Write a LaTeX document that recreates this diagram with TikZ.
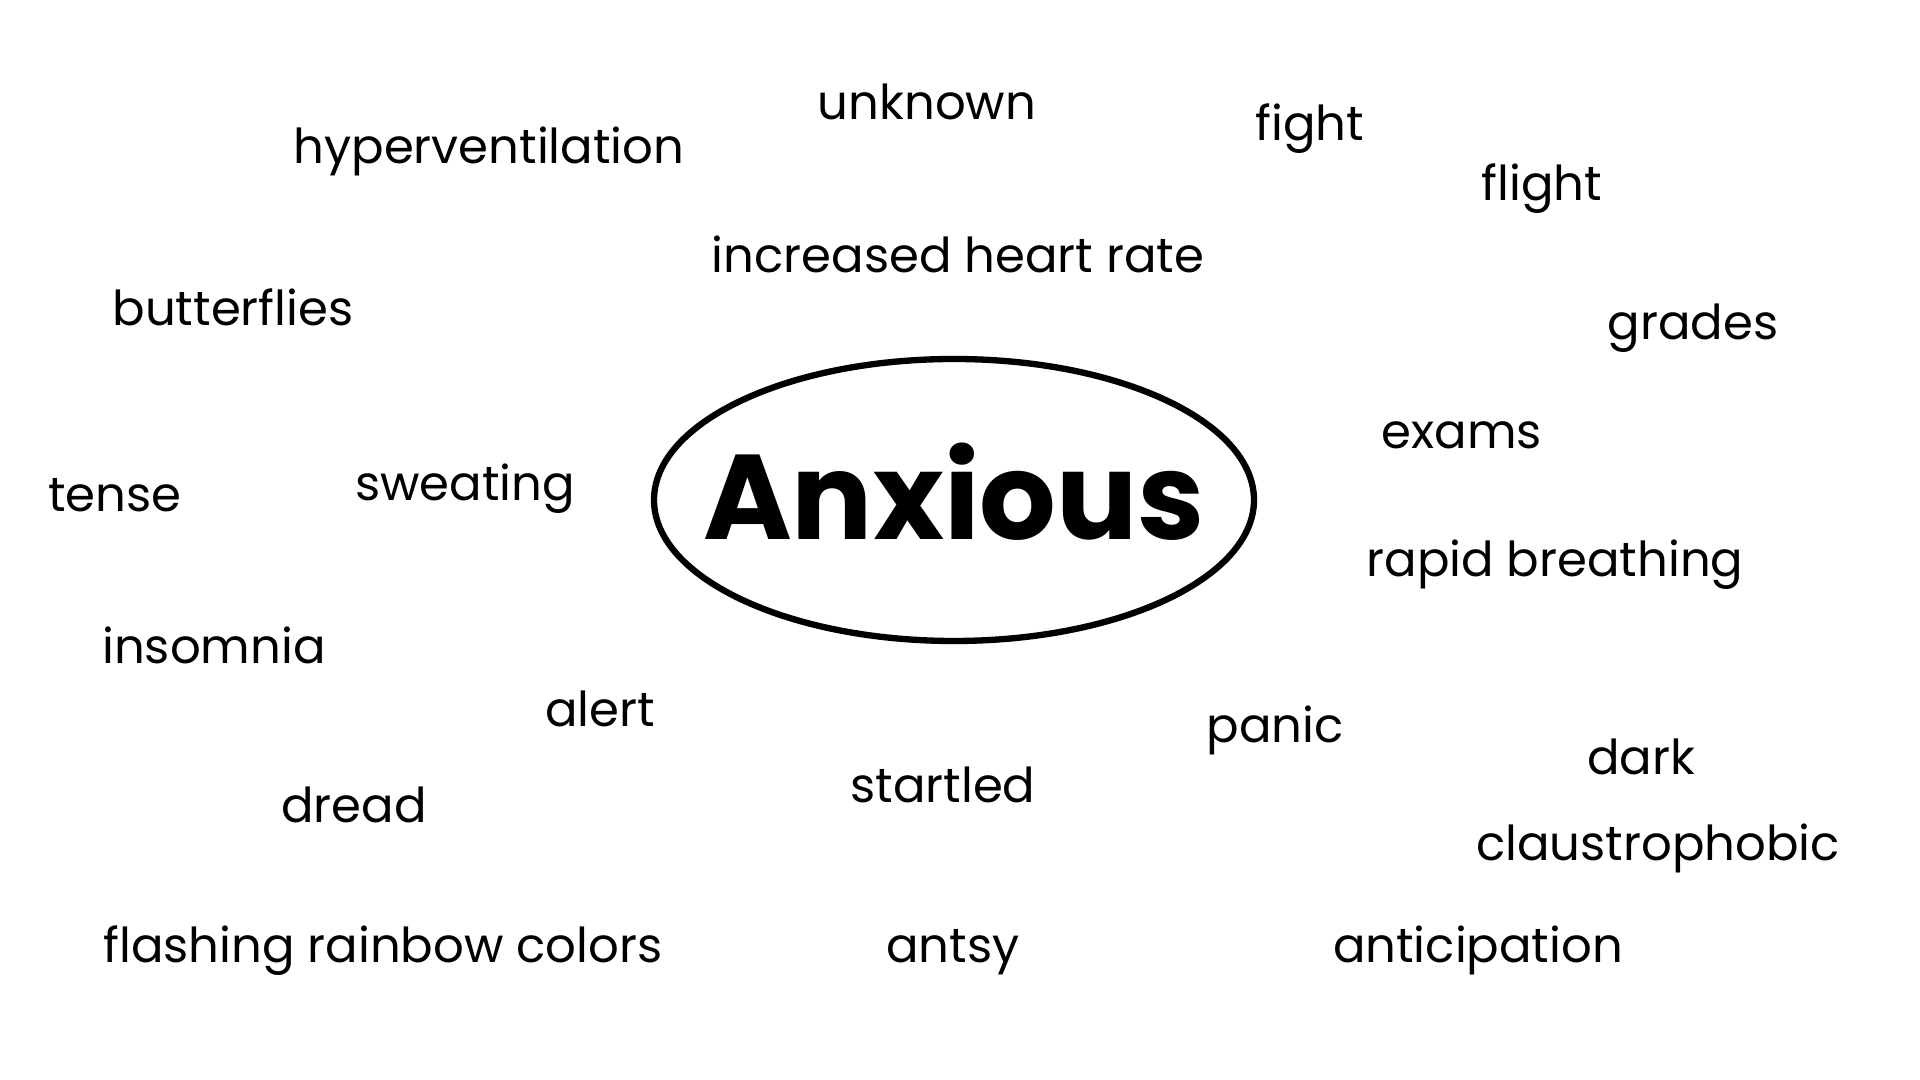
\documentclass[tikz,border=0pt]{standalone}
\usepackage{fontspec}
\setmainfont{Poppins}

\begin{document}
\begin{tikzpicture}[
  word/.style={inner sep=0pt, text height=0.75em, text depth=0.25em, yshift=-0.07cm, font=\fontsize{13.7}{15}\selectfont},
  hub/.style={line width=1.8pt},
  hubtext/.style={inner sep=0pt, font=\fontsize{34.3}{38}\selectfont\bfseries}
]
\useasboundingbox (0,0) rectangle (19.2,10.8);
\node[hubtext] (anxious) at (9.54,5.88) {Anxious};
\draw[hub] (9.54,5.80) ellipse [x radius=3.0, y radius=1.41];

% top
\node[word] (unknown) at (9.27,9.76) {unknown};
\node[word] (hyper) at (4.89,9.32) {hyperventilation};
\node[word] (fight) at (13.10,9.55) {fight};
\node[word] (flight) at (15.42,8.95) {flight};
\node[word] (heart) at (9.58,8.23) {increased heart rate};
\node[word] (butterflies) at (2.33,7.70) {butterflies};
\node[word] (grades) at (16.93,7.56) {grades};
\node[word] (exams) at (14.62,6.47) {exams};

% middle
\node[word] (tense) at (1.15,5.84) {tense};
\node[word] (sweating) at (4.65,5.95) {sweating};
\node[word] (breathing) at (15.55,5.19) {rapid breathing};
\node[word] (insomnia) at (2.14,4.32) {insomnia};
\node[word] (alert) at (6.00,3.69) {alert};
\node[word] (panic) at (12.75,3.53) {panic};
\node[word] (dark) at (16.41,3.21) {dark};

% bottom
\node[word] (startled) at (9.43,2.93) {startled};
\node[word] (dread) at (3.54,2.73) {dread};
\node[word] (claustro) at (16.58,2.35) {claustrophobic};
\node[word] (rainbow) at (3.83,1.33) {flashing rainbow colors};
\node[word] (antsy) at (9.53,1.33) {antsy};
\node[word] (anticipation) at (14.78,1.33) {anticipation};
\end{tikzpicture}
\end{document}
